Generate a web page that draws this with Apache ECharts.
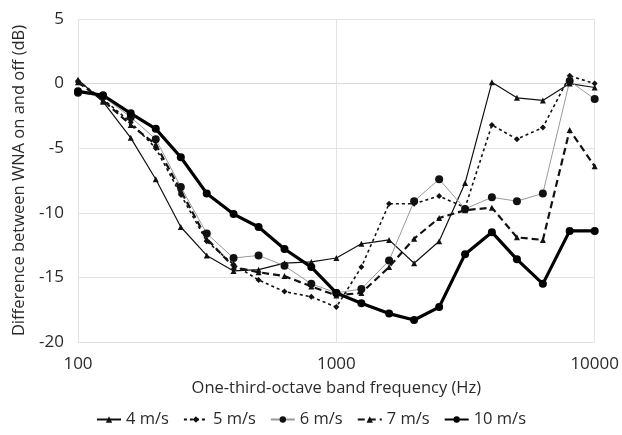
<!DOCTYPE html>
<html><head><meta charset="utf-8">
<script src="https://cdn.jsdelivr.net/npm/echarts@6/dist/echarts.min.js"></script>
<style>html,body{margin:0;padding:0;background:#fff}#c{width:622px;height:435px}</style>
</head><body><div id="c"></div>
<script>
const freqs = [100,125,160,200,250,315,400,500,630,800,1000,1250,1600,2000,2500,3150,4000,5000,6300,8000,10000];
const s4  = [0.3,-1.4,-4.2,-7.4,-11.1,-13.3,-14.5,-14.4,-13.9,-13.8,-13.5,-12.4,-12.1,-13.9,-12.2,-7.7,0.1,-1.1,-1.3,0.0,-0.3];
const s5  = [0.2,-1.2,-3.0,-5.0,-8.6,-12.2,-14.0,-15.2,-16.1,-16.5,-17.3,-14.2,-9.3,-9.3,-8.7,-9.6,-3.2,-4.3,-3.4,0.6,0.0];
const s6  = [-0.7,-1.0,-2.6,-4.3,-8.0,-11.6,-13.5,-13.3,-14.1,-15.5,-16.2,-15.9,-13.7,-9.1,-7.4,-9.7,-8.8,-9.1,-8.5,0.2,-1.2];
const s7  = [0.1,-1.3,-3.2,-4.7,-8.3,-12.0,-14.2,-14.6,-14.9,-15.7,-16.4,-16.2,-14.2,-12.0,-10.4,-9.8,-9.6,-11.9,-12.1,-3.6,-6.4];
const s10 = [-0.6,-0.9,-2.3,-3.5,-5.7,-8.5,-10.1,-11.1,-12.8,-14.2,-16.2,-17.0,-17.8,-18.3,-17.3,-13.2,-11.5,-13.6,-15.5,-11.4,-11.4];
const names = ['4 m/s','5 m/s','6 m/s','7 m/s','10 m/s'];

const pair = arr => freqs.map((f,i)=>[f,arr[i]]);
const font = '"Open Sans", "Liberation Sans", sans-serif';
const txt = '#2a2a2a';
const chart = echarts.init(document.getElementById('c'), null, {renderer:'canvas'});
chart.setOption({
  animation:false,
  textStyle:{fontFamily:font},
  grid:{left:78,right:24,top:19,bottom:93},
  xAxis:{type:'log',logBase:10,min:100,max:10000,
    name:'One-third-octave band frequency (Hz)',nameLocation:'middle',nameGap:38,
    nameTextStyle:{fontSize:16.5,color:txt,fontFamily:font},
    axisLine:{show:true,lineStyle:{color:'#d9d9d9'}},axisTick:{show:false},
    axisLabel:{fontSize:17,color:txt,margin:14,fontFamily:font,formatter:v=>String(v)},
    splitLine:{show:true,lineStyle:{color:'#e3e3e3'}},minorSplitLine:{show:false}},
  yAxis:{type:'value',min:-20,max:5,interval:5,
    name:'Difference between WNA on and off (dB)',nameLocation:'middle',nameGap:50,
    nameTextStyle:{fontSize:16.5,color:txt,fontFamily:font},
    axisLine:{show:false},axisTick:{show:false},
    axisLabel:{fontSize:17,color:txt,margin:14,fontFamily:font},
    splitLine:{show:true,lineStyle:{color:'#e3e3e3'}}},
  legend:{bottom:2,left:'center',itemGap:14,itemWidth:24,itemHeight:8,
    textStyle:{fontSize:16.5,color:txt,fontFamily:font},data:names},
  series:[
    {name:names[0],type:'line',data:pair(s4),symbol:'triangle',symbolSize:6,
      lineStyle:{color:'#111',width:1.2},itemStyle:{color:'#111'}},
    {name:names[1],type:'line',data:pair(s5),symbol:'diamond',symbolSize:6,
      lineStyle:{color:'#111',width:1.6,type:[3,3]},itemStyle:{color:'#111'}},
    {name:names[2],type:'line',data:pair(s6),symbol:'circle',symbolSize:8,
      lineStyle:{color:'#999',width:1},itemStyle:{color:'#111'}},
    {name:names[3],type:'line',data:pair(s7),symbol:'triangle',symbolSize:6,
      lineStyle:{color:'#111',width:2.2,type:[7,4]},itemStyle:{color:'#111'}},
    {name:names[4],type:'line',data:pair(s10),symbol:'circle',symbolSize:8,
      lineStyle:{color:'#000',width:3.2},itemStyle:{color:'#000'}}
  ]
});
</script></body></html>
